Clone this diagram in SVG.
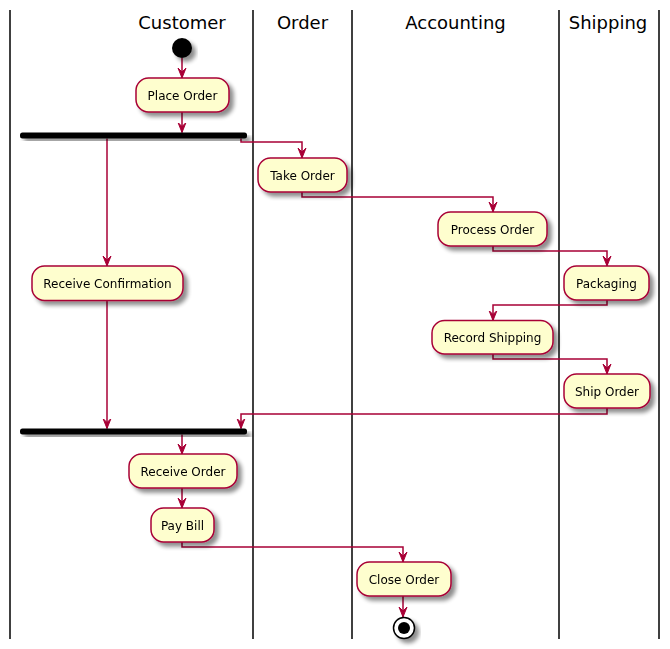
<svg xmlns="http://www.w3.org/2000/svg" width="670" height="649" viewBox="0 0 670 649">
<style>
.lane{stroke:#000;stroke-width:1.5;fill:none}
.title{font-family:"DejaVu Sans",sans-serif;font-size:18px;fill:#000;text-anchor:middle}
.act rect{fill:#FEFECE;stroke:#A80036;stroke-width:1.5}
.act text{font-family:"DejaVu Sans",sans-serif;font-size:12px;fill:#000;text-anchor:middle}
.conn path{fill:none;stroke:#A80036;stroke-width:1.5;marker-end:url(#arr)}
</style>
<defs>
<filter id="sh" x="-20%" y="-20%" width="150%" height="160%">
<feGaussianBlur in="SourceAlpha" stdDeviation="2"/>
<feOffset dx="4" dy="4" result="b"/>
<feComponentTransfer><feFuncA type="linear" slope="0.45"/></feComponentTransfer>
<feMerge><feMergeNode/><feMergeNode in="SourceGraphic"/></feMerge>
</filter>
<marker id="arr" viewBox="0 -5 11 10" refX="10" refY="0" markerWidth="11" markerHeight="10" markerUnits="userSpaceOnUse" orient="auto">
<path d="M0,-4 L10,0 L0,4 L4,0 Z" fill="#A80036" stroke="#A80036" stroke-width="1"/>
</marker>
</defs>
<g id="lanes">
<line class="lane" x1="10" y1="10" x2="10" y2="639"/>
<line class="lane" x1="253" y1="10" x2="253" y2="639"/>
<line class="lane" x1="352" y1="10" x2="352" y2="639"/>
<line class="lane" x1="559" y1="10" x2="559" y2="639"/>
<line class="lane" x1="659" y1="10" x2="659" y2="639"/>
<text class="title" x="182" y="29">Customer</text>
<text class="title" x="302.5" y="29">Order</text>
<text class="title" x="455.5" y="29">Accounting</text>
<text class="title" x="608" y="29">Shipping</text>
</g>
<g class="conn" id="connectors">
<path d="M182,58 L182,78"/>
<path d="M182,112 L182,132.5"/>
<path d="M107,138.5 L107,266"/>
<path d="M241,138.5 L241,142 L302,142 L302,158"/>
<path d="M302,192 L302,197 L493,197 L493,212"/>
<path d="M493,246 L493,251 L607,251 L607,266"/>
<path d="M607,300 L607,305 L493,305 L493,320.5"/>
<path d="M493,354 L493,359 L607,359 L607,374"/>
<path d="M607,408 L607,414 L241,414 L241,428.5"/>
<path d="M107,300.5 L107,428.5"/>
<path d="M182,434.5 L182,454"/>
<path d="M182,488 L182,508"/>
<path d="M182,542 L182,547 L403,547 L403,562"/>
<path d="M403,596 L403,617"/>
</g>
<g id="start" filter="url(#sh)"><circle cx="182" cy="48" r="10" fill="#000"/></g>
<g id="fork1" filter="url(#sh)"><rect x="20" y="132.5" width="227" height="6" rx="2.5" fill="#000"/></g>
<g id="fork2" filter="url(#sh)"><rect x="20" y="428.5" width="227" height="6" rx="2.5" fill="#000"/></g>
<g id="placeOrder" class="act" filter="url(#sh)"><rect x="136" y="78" width="93" height="34" rx="12.5"/><text x="182.5" y="100">Place Order</text></g>
<g id="takeOrder" class="act" filter="url(#sh)"><rect x="258" y="158" width="89" height="34" rx="12.5"/><text x="302.5" y="180">Take Order</text></g>
<g id="processOrder" class="act" filter="url(#sh)"><rect x="438" y="212" width="109" height="34" rx="12.5"/><text x="492.5" y="234">Process Order</text></g>
<g id="packaging" class="act" filter="url(#sh)"><rect x="564" y="266" width="85" height="34" rx="12.5"/><text x="606.5" y="288">Packaging</text></g>
<g id="receiveConfirmation" class="act" filter="url(#sh)"><rect x="32" y="266" width="151" height="34.5" rx="12.5"/><text x="107.5" y="288">Receive Confirmation</text></g>
<g id="recordShipping" class="act" filter="url(#sh)"><rect x="432" y="320.5" width="121" height="33.5" rx="12.5"/><text x="492.5" y="342">Record Shipping</text></g>
<g id="shipOrder" class="act" filter="url(#sh)"><rect x="564" y="374" width="86" height="34" rx="12.5"/><text x="607" y="396">Ship Order</text></g>
<g id="receiveOrder" class="act" filter="url(#sh)"><rect x="129" y="454" width="108" height="34" rx="12.5"/><text x="183" y="476">Receive Order</text></g>
<g id="payBill" class="act" filter="url(#sh)"><rect x="151" y="508" width="63" height="34" rx="12.5"/><text x="182.5" y="530">Pay Bill</text></g>
<g id="closeOrder" class="act" filter="url(#sh)"><rect x="357" y="562" width="94" height="34" rx="12.5"/><text x="404" y="584">Close Order</text></g>
<g id="end" filter="url(#sh)"><circle cx="404" cy="628" r="10.5" fill="#fff" stroke="#000" stroke-width="1.5"/><circle cx="404" cy="628" r="6" fill="#000"/></g>
</svg>
